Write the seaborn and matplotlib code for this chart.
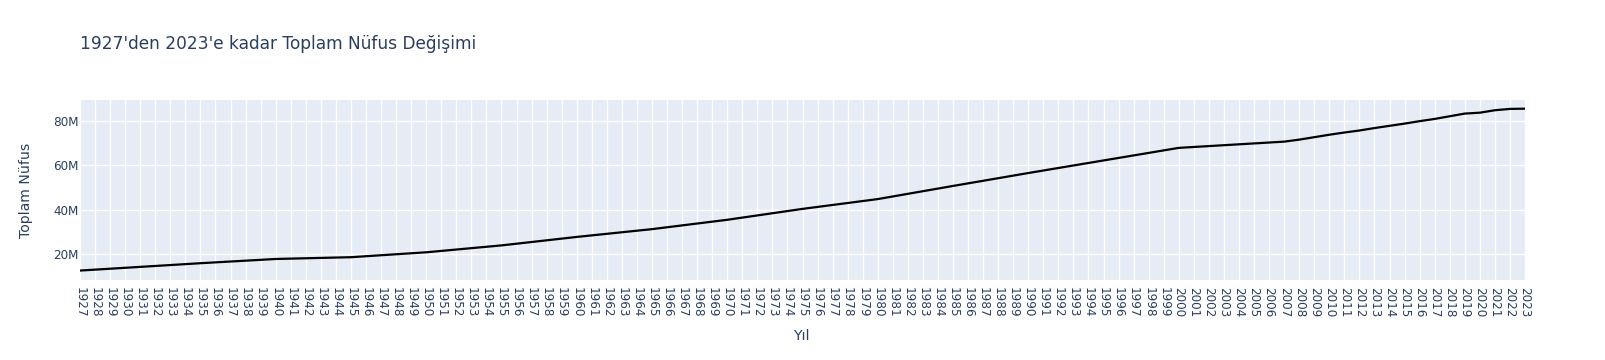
import matplotlib
matplotlib.use("Agg")
import matplotlib.pyplot as plt
import matplotlib.ticker as mticker
import seaborn as sns
import pandas as pd

years = [1927, 1935, 1940, 1945, 1950, 1955, 1960, 1965, 1970, 1975, 1980,
         1985, 1990, 2000, 2007, 2008, 2009, 2010, 2011, 2012, 2013, 2014,
         2015, 2016, 2017, 2018, 2019, 2020, 2021, 2022, 2023]
population = [12.7e6, 16.0e6, 17.9e6, 18.7e6, 20.9e6, 24.0e6, 27.8e6, 31.3e6,
              35.5e6, 40.4e6, 44.8e6, 50.7e6, 56.5e6, 67.8e6, 70.6e6, 71.5e6,
              72.6e6, 73.7e6, 74.7e6, 75.6e6, 76.7e6, 77.7e6, 78.7e6, 79.8e6,
              80.8e6, 82.0e6, 83.2e6, 83.6e6, 84.7e6, 85.3e6, 85.4e6]
tick_years = list(range(1927, 2024))

title = "1927'den 2023'e kadar Toplam Nüfus Değişimi"
x_title = "Yıl"
y_title = "Toplam Nüfus"

df = pd.DataFrame({"Yıl": years, "Toplam Nüfus": population})

sns.set_theme(style="white")
plt.rcParams['font.family'] = ['DejaVu Sans']
text_color = "#2a3f5f"

W, H = 1605, 360
fig = plt.figure(figsize=(W / 100, H / 100), dpi=100)
fig.patch.set_facecolor("white")
ax = fig.add_axes([80 / W, 80 / H, 1445 / W, 180 / H])
ax.set_facecolor("#E5ECF6")

sns.lineplot(data=df, x="Yıl", y="Toplam Nüfus", ax=ax, color="black",
             linewidth=1.6, zorder=3)

ax.set_xlim(1927, 2023)
ax.set_ylim(8.46e6, 89.3e6)
ax.set_xticks(tick_years)
ax.set_xticklabels([str(y) for y in tick_years], rotation=-90,
                   fontsize=8.64, color=text_color)
ax.yaxis.set_major_locator(mticker.FixedLocator([20e6, 40e6, 60e6, 80e6]))
ax.yaxis.set_major_formatter(mticker.FuncFormatter(lambda v, p: f"{v/1e6:.0f}M"))
ax.tick_params(axis="both", length=0, labelsize=8.64, labelcolor=text_color)
ax.tick_params(axis="x", pad=5.0)
ax.tick_params(axis="y", pad=1.3)
ax.grid(True, color="white", linewidth=1.0, zorder=0)
ax.set_axisbelow(True)
for s in ax.spines.values():
    s.set_visible(False)

ax.set_xlabel(x_title, fontsize=10.08, color=text_color)
ax.set_ylabel(y_title, fontsize=10.08, color=text_color)
ax.xaxis.set_label_coords(802 / W, 1 - 336 / H, transform=fig.transFigure)
ax.xaxis.label.set_verticalalignment("center")
ax.yaxis.set_label_coords(25.6 / W, 1 - 190 / H, transform=fig.transFigure)
ax.yaxis.label.set_verticalalignment("center")

fig.text(80 / W, 1 - 44 / H, title, fontsize=12.24, color=text_color,
         ha="left", va="center")

fig.savefig("out.png", dpi=100, facecolor="white")
